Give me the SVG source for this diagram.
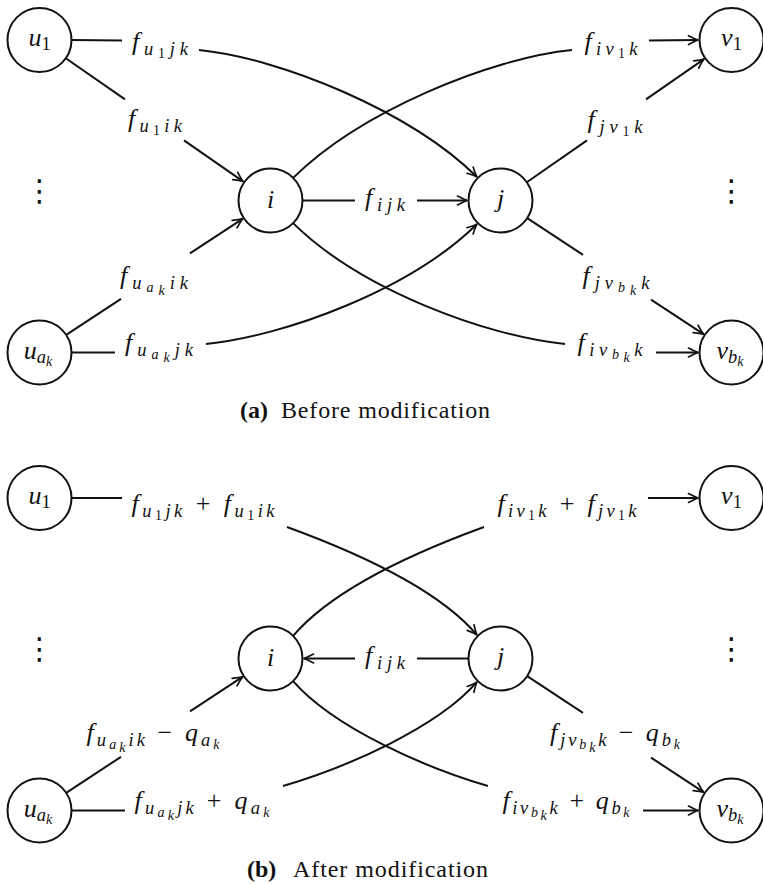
<svg xmlns="http://www.w3.org/2000/svg" width="763" height="884" viewBox="0 0 763 884" font-family="'Liberation Serif', 'Times New Roman', serif">
<defs>
  <marker id="arr" markerUnits="userSpaceOnUse" viewBox="-12 -6 14 12" refX="0" refY="0" markerWidth="14" markerHeight="12" orient="auto">
    <path d="M-9.5,-4.4 Q-3.5,-1.2 0,0 Q-3.5,1.2 -9.5,4.4" fill="none" stroke="#111" stroke-width="1.7" stroke-linecap="round" stroke-linejoin="round"/>
  </marker>
</defs>
<style>
  .node circle{fill:#fff;stroke:#111;stroke-width:2}
  .edge{fill:none;stroke:#111;stroke-width:2}
  .arrow{marker-end:url(#arr)}
  text{font-family:'Liberation Serif','Times New Roman',serif;fill:#111}
  .m{font-style:italic;font-size:26px}
  .lbl{text-anchor:middle}
  .s{font-size:18.5px}
  .ss{font-size:14px}
  .n{font-style:normal}
  .cap{font-size:24px;font-style:normal}
  .b{font-weight:bold}
  text.dots{font-family:'DejaVu Sans',sans-serif;font-size:30px;text-anchor:middle}
</style>
<rect width="763" height="884" fill="#fff"/>

<!-- (a) flows before the modification -->
<g id="panel-a">
  <g id="a-connectors">
    <!-- u1 -> j -->
    <path class="edge" d="M71.5,40 L122,40.5"/>
    <path class="edge arrow" d="M199,50 C280,58 410,111 476.8,176.8"/>
    <!-- u1 -> i -->
    <path class="edge" d="M65.8,58.3 L125,99.4"/>
    <path class="edge arrow" d="M184,140.4 L243,181.4"/>
    <!-- i -> v1 -->
    <path class="edge" d="M293.1,177.9 C361,111 491,58 572,50"/>
    <path class="edge arrow" d="M649,40.5 L698,40"/>
    <!-- j -> v1 -->
    <path class="edge" d="M526.8,182.2 L587,140.4"/>
    <path class="edge arrow" d="M646,99.4 L704,59.1"/>
    <!-- i -> j -->
    <path class="edge" d="M302.5,200.5 L355,200.5"/>
    <path class="edge arrow" d="M417,200.5 L467,200.5"/>
    <!-- u_ak -> i -->
    <path class="edge" d="M66.2,334.9 L121,298.8"/>
    <path class="edge arrow" d="M190,253.4 L242.5,218.9"/>
    <!-- u_ak -> j -->
    <path class="edge" d="M71.5,352.5 L115,352.5"/>
    <path class="edge arrow" d="M206,344 C285,336 410,290 476.8,224.2"/>
    <!-- j -> v_bk -->
    <path class="edge" d="M527.2,218.1 L583,254.8"/>
    <path class="edge arrow" d="M651,299.6 L703.5,334.1"/>
    <!-- i -> v_bk -->
    <path class="edge" d="M293.1,223.1 C361,290 486,336 565,344"/>
    <path class="edge arrow" d="M656,352.5 L698,352.5"/>
  </g>

  <g id="a-labels">
    <text class="m lbl" x="160" y="50" textLength="56">f<tspan class="s" dy="5">u</tspan><tspan class="ss n" dy="3">1</tspan><tspan class="s" dy="-3">jk</tspan></text>
    <text class="m lbl" x="155" y="127" textLength="54">f<tspan class="s" dy="5">u</tspan><tspan class="ss n" dy="3">1</tspan><tspan class="s" dy="-3">ik</tspan></text>
    <text class="m lbl" x="611" y="50" textLength="53">f<tspan class="s" dy="5">iv</tspan><tspan class="ss n" dy="3">1</tspan><tspan class="s" dy="-3">k</tspan></text>
    <text class="m lbl" x="615" y="128" textLength="55">f<tspan class="s" dy="5">jv</tspan><tspan class="ss n" dy="3">1</tspan><tspan class="s" dy="-3">k</tspan></text>
    <text class="m lbl" x="385" y="206" textLength="40">f<tspan class="s" dy="5">ijk</tspan></text>
    <text class="m lbl" x="154" y="284" textLength="68">f<tspan class="s" dy="5">u</tspan><tspan class="ss" dy="3">a</tspan><tspan class="ss" dy="3">k</tspan><tspan class="s" dy="-6">ik</tspan></text>
    <text class="m lbl" x="159" y="351" textLength="68">f<tspan class="s" dy="5">u</tspan><tspan class="ss" dy="3">a</tspan><tspan class="ss" dy="3">k</tspan><tspan class="s" dy="-6">jk</tspan></text>
    <text class="m lbl" x="616" y="284" textLength="67">f<tspan class="s" dy="5">jv</tspan><tspan class="ss" dy="3">b</tspan><tspan class="ss" dy="3">k</tspan><tspan class="s" dy="-6">k</tspan></text>
    <text class="m lbl" x="610" y="351" textLength="65">f<tspan class="s" dy="5">iv</tspan><tspan class="ss" dy="3">b</tspan><tspan class="ss" dy="3">k</tspan><tspan class="s" dy="-6">k</tspan></text>
  </g>

  <g id="a-u1" class="node"><circle cx="39.5" cy="40" r="32"/><text class="m lbl" x="39.5" y="46">u<tspan class="s n" dy="4">1</tspan></text></g>
  <g id="a-v1" class="node"><circle cx="731.5" cy="40" r="32"/><text class="m lbl" x="731.5" y="46">v<tspan class="s n" dy="4">1</tspan></text></g>
  <g id="a-i" class="node"><circle cx="270.5" cy="200.5" r="32"/><text class="m lbl" x="270.5" y="208">i</text></g>
  <g id="a-j" class="node"><circle cx="500.5" cy="200.5" r="32"/><text class="m lbl" x="500.5" y="207">j</text></g>
  <g id="a-uak" class="node"><circle cx="39.5" cy="352.5" r="32"/><text class="m lbl" x="38" y="359">u<tspan class="s" dy="4">a</tspan><tspan class="ss" dy="3">k</tspan></text></g>
  <g id="a-vbk" class="node"><circle cx="731.5" cy="352.5" r="32"/><text class="m lbl" x="730" y="359">v<tspan class="s" dy="4">b</tspan><tspan class="ss" dy="3">k</tspan></text></g>

  <text class="dots" x="39.5" y="201">⋮</text>
  <text class="dots" x="731.5" y="201">⋮</text>

  <text class="cap b" x="240" y="418">(a)</text>
  <text class="cap" x="281" y="418" textLength="209">Before modification</text>
</g>

<!-- (b) flows after the modification -->
<g id="panel-b" transform="translate(0,458)">
  <g id="b-connectors">
    <!-- u1 -> j -->
    <path class="edge" d="M71.5,40 L122,40"/>
    <path class="edge arrow" d="M287,69 C350,92 437,130 476.8,176.8"/>
    <!-- i -> v1 -->
    <path class="edge" d="M293.1,177.9 C334,130 421,92 484,69"/>
    <path class="edge arrow" d="M648,40 L698,40"/>
    <!-- j -> i -->
    <path class="edge" d="M468.5,200.5 L417,200.5"/>
    <path class="edge arrow" d="M355,200.5 L304,200.5"/>
    <!-- u_ak -> i -->
    <path class="edge" d="M66.2,334.9 L121,298.8"/>
    <path class="edge arrow" d="M190,253.4 L242.5,218.9"/>
    <!-- u_ak -> j -->
    <path class="edge" d="M71.5,352.5 L125,352.5"/>
    <path class="edge arrow" d="M283,328 C345,310 437,270 476.8,224.2"/>
    <!-- j -> v_bk -->
    <path class="edge" d="M527.2,218.1 L583,254.8"/>
    <path class="edge arrow" d="M651,299.6 L703.5,334.1"/>
    <!-- i -> v_bk -->
    <path class="edge" d="M293.1,223.1 C334,270 426,310 488,328"/>
    <path class="edge arrow" d="M643,352.5 L698,352.5"/>
  </g>

  <g id="b-labels">
    <text class="m lbl" x="203" y="54" textLength="143">f<tspan class="s" dy="5">u</tspan><tspan class="ss n" dy="3">1</tspan><tspan class="s" dy="-3">jk</tspan><tspan class="n" dy="-5"> + </tspan>f<tspan class="s" dy="5">u</tspan><tspan class="ss n" dy="3">1</tspan><tspan class="s" dy="-3">ik</tspan></text>
    <text class="m lbl" x="567" y="54" textLength="139">f<tspan class="s" dy="5">iv</tspan><tspan class="ss n" dy="3">1</tspan><tspan class="s" dy="-3">k</tspan><tspan class="n" dy="-5"> + </tspan>f<tspan class="s" dy="5">jv</tspan><tspan class="ss n" dy="3">1</tspan><tspan class="s" dy="-3">k</tspan></text>
    <text class="m lbl" x="385" y="206" textLength="40">f<tspan class="s" dy="5">ijk</tspan></text>
    <text class="m lbl" x="153" y="283" textLength="133">f<tspan class="s" dy="5">u</tspan><tspan class="ss" dy="3">a</tspan><tspan class="ss" dy="3">k</tspan><tspan class="s" dy="-6">ik</tspan><tspan class="n" dy="-5"> − </tspan>q<tspan class="s" dy="5">a</tspan><tspan class="ss" dy="3">k</tspan></text>
    <text class="m lbl" x="202" y="351" textLength="135">f<tspan class="s" dy="5">u</tspan><tspan class="ss" dy="3">a</tspan><tspan class="ss" dy="3">k</tspan><tspan class="s" dy="-6">jk</tspan><tspan class="n" dy="-5"> + </tspan>q<tspan class="s" dy="5">a</tspan><tspan class="ss" dy="3">k</tspan></text>
    <text class="m lbl" x="615" y="283" textLength="130">f<tspan class="s" dy="5">jv</tspan><tspan class="ss" dy="3">b</tspan><tspan class="ss" dy="3">k</tspan><tspan class="s" dy="-6">k</tspan><tspan class="n" dy="-5"> − </tspan>q<tspan class="s" dy="5">b</tspan><tspan class="ss" dy="3">k</tspan></text>
    <text class="m lbl" x="566" y="351" textLength="127">f<tspan class="s" dy="5">iv</tspan><tspan class="ss" dy="3">b</tspan><tspan class="ss" dy="3">k</tspan><tspan class="s" dy="-6">k</tspan><tspan class="n" dy="-5"> + </tspan>q<tspan class="s" dy="5">b</tspan><tspan class="ss" dy="3">k</tspan></text>
  </g>

  <g id="b-u1" class="node"><circle cx="39.5" cy="40" r="32"/><text class="m lbl" x="39.5" y="46">u<tspan class="s n" dy="4">1</tspan></text></g>
  <g id="b-v1" class="node"><circle cx="731.5" cy="40" r="32"/><text class="m lbl" x="731.5" y="46">v<tspan class="s n" dy="4">1</tspan></text></g>
  <g id="b-i" class="node"><circle cx="270.5" cy="200.5" r="32"/><text class="m lbl" x="270.5" y="208">i</text></g>
  <g id="b-j" class="node"><circle cx="500.5" cy="200.5" r="32"/><text class="m lbl" x="500.5" y="207">j</text></g>
  <g id="b-uak" class="node"><circle cx="39.5" cy="352.5" r="32"/><text class="m lbl" x="38" y="359">u<tspan class="s" dy="4">a</tspan><tspan class="ss" dy="3">k</tspan></text></g>
  <g id="b-vbk" class="node"><circle cx="731.5" cy="352.5" r="32"/><text class="m lbl" x="730" y="359">v<tspan class="s" dy="4">b</tspan><tspan class="ss" dy="3">k</tspan></text></g>

  <text class="dots" x="39.5" y="201">⋮</text>
  <text class="dots" x="731.5" y="201">⋮</text>

  <text class="cap b" x="247" y="419">(b)</text>
  <text class="cap" x="293" y="419" textLength="195">After modification</text>
</g>
</svg>
